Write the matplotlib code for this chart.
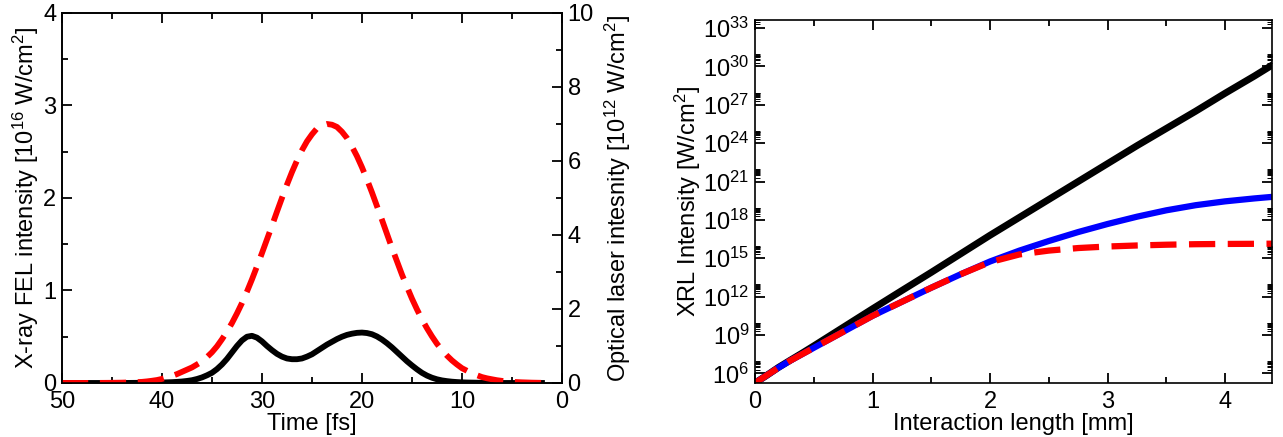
import numpy as np
import matplotlib
matplotlib.use('Agg')
import matplotlib.pyplot as plt
from matplotlib.ticker import MultipleLocator, FixedLocator, LogFormatterMathtext, NullFormatter

plt.rcParams['font.family'] = ['Liberation Sans', 'DejaVu Sans']
plt.rcParams['mathtext.default'] = 'regular'
plt.rcParams['font.size'] = 17
plt.rcParams['axes.linewidth'] = 1.2

# left panel: pulses vs time
time_fs = [50, 49, 48, 47, 46, 45, 44, 43,
           42, 41.5, 41, 40.5, 40, 39.5, 39, 38.5, 38, 37.5,
           37, 36.5, 36, 35.5, 35, 34.5, 34, 33.5, 33, 32.5,
           32, 31.5, 31, 30.5, 30, 29.5, 29, 28.5, 28, 27.5,
           27, 26.5, 26, 25.5, 25, 24.5, 24, 23.5, 23, 22.5,
           22, 21.5, 21, 20.5, 20, 19.5, 19, 18.5, 18, 17.5,
           17, 16.5, 16, 15.5, 15, 14.5, 14, 13.5, 13, 12.5,
           12, 11.5, 11, 10.5, 10, 9.5, 9, 8.5, 8, 7.5,
           7, 6.5, 6,
           5, 4, 3, 2]
xfel = [0, 0, 0, 0, 0, 0, 0, 0.001,
        0.002, 0.0025, 0.003, 0.004, 0.005, 0.007, 0.009, 0.012, 0.016, 0.022,
        0.03, 0.043, 0.06, 0.083, 0.11, 0.15, 0.2, 0.26, 0.33, 0.40,
        0.46, 0.50, 0.51, 0.49, 0.45, 0.40, 0.355, 0.315, 0.285, 0.265,
        0.257, 0.257, 0.265, 0.285, 0.31, 0.345, 0.38, 0.415, 0.445, 0.475,
        0.50, 0.52, 0.533, 0.542, 0.545, 0.54, 0.527, 0.503, 0.47, 0.43,
        0.385, 0.335, 0.285, 0.235, 0.19, 0.148, 0.11, 0.08, 0.057, 0.04,
        0.028, 0.02, 0.014, 0.01, 0.007, 0.005, 0.004, 0.003, 0.002, 0.0015,
        0.001, 0.0005, 0,
        0, 0, 0, 0]
optical = [0.001, 0.001, 0.001, 0.002, 0.003, 0.005, 0.009, 0.017,
           0.03, 0.043, 0.06, 0.08, 0.11, 0.15, 0.19, 0.24, 0.30, 0.36,
           0.42, 0.50, 0.58, 0.70, 0.83, 0.99, 1.18, 1.39, 1.62, 1.88,
           2.16, 2.47, 2.80, 3.15, 3.51, 3.88, 4.25, 4.63, 5.00, 5.36,
           5.70, 6.01, 6.29, 6.53, 6.72, 6.88, 6.96, 7.0, 6.98, 6.92,
           6.79, 6.62, 6.39, 6.13, 5.83, 5.50, 5.15, 4.78, 4.41, 4.03,
           3.65, 3.29, 2.93, 2.60, 2.28, 1.99, 1.72, 1.48, 1.26, 1.06,
           0.89, 0.74, 0.61, 0.50, 0.40, 0.33, 0.26, 0.21, 0.16, 0.126,
           0.10, 0.075, 0.057,
           0.03, 0.018, 0.009, 0.004]

# right panel: XRL intensity vs interaction length (log10 of W/cm^2)
length_mm = [0, 0.05, 0.1, 0.2, 0.3, 0.4, 0.5, 0.75, 1.0, 1.25, 1.5, 1.75, 2.0, 2.25, 2.5, 2.75,
             3.0, 3.25, 3.5, 3.75, 4.0, 4.25, 4.4]
log_black = [5.25, 5.55, 5.85, 6.47, 7.03, 7.58, 8.15, 9.6, 11.05, 12.48, 13.9, 15.35, 16.8, 18.2, 19.6, 21.0,
             22.4, 23.8, 25.15, 26.5, 27.9, 29.25, 30.1]
log_blue = [5.25, 5.55, 5.85, 6.45, 7.0, 7.5, 8.0, 9.25, 10.5, 11.6, 12.7, 13.75, 14.75, 15.6, 16.35, 17.05,
            17.68, 18.25, 18.75, 19.15, 19.45, 19.68, 19.8]
log_red = [5.25, 5.55, 5.85, 6.45, 7.0, 7.5, 8.0, 9.25, 10.5, 11.6, 12.7, 13.75, 14.7, 15.3, 15.6, 15.8,
           15.92, 16.0, 16.06, 16.1, 16.12, 16.13, 16.14]

fig = plt.figure(figsize=(12.83, 4.37), dpi=100)

ax1 = fig.add_axes([0.0483, 0.1236, 0.3897, 0.8467])
ax1.plot(time_fs, xfel, color='black', lw=4.2)
ax1.set_xlim(50, 0)
ax1.set_ylim(0, 4)
ax1.xaxis.set_major_locator(MultipleLocator(10))
ax1.xaxis.set_minor_locator(MultipleLocator(5))
ax1.yaxis.set_major_locator(MultipleLocator(1))
ax1.yaxis.set_minor_locator(MultipleLocator(0.5))
ax1.tick_params(which='both', direction='in', top=True, right=False, width=1.3)
ax1.tick_params(which='major', length=7, pad=4)
ax1.tick_params(which='minor', length=4.5)
ax1.tick_params(axis='x', which='major', pad=5.5)
ax1.set_xlabel('Time [fs]', labelpad=0)
ax1.set_ylabel('X-ray FEL intensity [10$^{16}$ W/cm$^2$]', labelpad=2)

ax2 = ax1.twinx()
ax2.plot(time_fs, optical, color='red', lw=4.2, dashes=(4.5, 2))
ax2.set_ylim(0, 10)
ax2.yaxis.set_major_locator(MultipleLocator(2))
ax2.yaxis.set_minor_locator(MultipleLocator(1))
ax2.tick_params(which='both', direction='in', width=1.3)
ax2.tick_params(which='major', length=7, pad=4)
ax2.tick_params(which='minor', length=4.5)
ax2.set_ylabel('Optical laser intesnity [10$^{12}$ W/cm$^2$]', labelpad=6.5)

ax3 = fig.add_axes([0.5885, 0.1236, 0.403, 0.8307])
ax3.plot(length_mm, 10 ** np.array(log_black), color='black', lw=5)
ax3.plot(length_mm, 10 ** np.array(log_blue), color='blue', lw=4.5)
ax3.plot(length_mm, 10 ** np.array(log_red), color='red', lw=4.5, dashes=(4.2, 2))
ax3.set_yscale('log')
ax3.set_xlim(0, 4.4)
ax3.set_ylim(10 ** 5.25, 10 ** 33.63)
ax3.xaxis.set_major_locator(MultipleLocator(1))
ax3.xaxis.set_minor_locator(MultipleLocator(0.5))
ax3.yaxis.set_major_locator(FixedLocator([10.0 ** k for k in range(6, 34, 3)]))
ax3.yaxis.set_major_formatter(LogFormatterMathtext())
ax3.yaxis.set_minor_locator(FixedLocator([m * 10.0 ** k for k in range(6, 34, 3) for m in range(2, 10)]))
ax3.yaxis.set_minor_formatter(NullFormatter())
ax3.tick_params(which='both', direction='in', top=True, right=True)
ax3.tick_params(which='major', length=7, width=1.3, pad=4)
ax3.tick_params(which='minor', length=3.5, width=0.7)
ax3.tick_params(axis='x', which='minor', length=4.5, width=1.3)
ax3.tick_params(axis='x', which='major', pad=5.5)
ax3.set_xlabel('Interaction length [mm]', labelpad=0)
ax3.set_ylabel('XRL Intensity [W/cm$^2$]', labelpad=0)

fig.savefig('out.png', dpi=100)
